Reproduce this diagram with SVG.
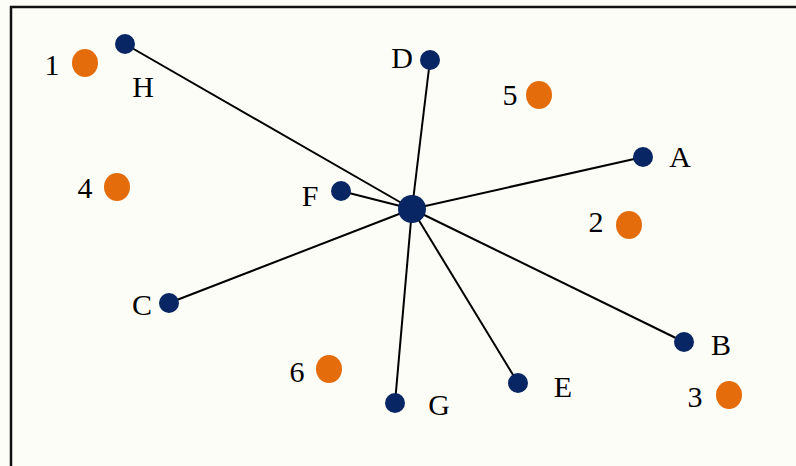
<svg xmlns="http://www.w3.org/2000/svg" width="796" height="466" viewBox="0 0 796 466">
  <style>
    .edge { stroke: #000; stroke-width: 2; fill: none; }
    .node { fill: #072663; }
    .hub { fill: #072663; }
    .spot { fill: #E46C0A; }
    .lbl { font-family: "Liberation Serif", "Times New Roman", serif; font-size: 30px; fill: #000; text-anchor: middle; }
    .frame { stroke: #111; stroke-width: 2.5; fill: none; }
  </style>
  <rect x="0" y="0" width="796" height="466" fill="#FDFDF8"/>
  <path class="frame" d="M11,466 V7 H796"/>

  <g id="connectors">
    <line class="edge" x1="412" y1="209" x2="125" y2="44"/>
    <line class="edge" x1="412" y1="209" x2="430" y2="60"/>
    <line class="edge" x1="412" y1="209" x2="643" y2="157"/>
    <line class="edge" x1="412" y1="209" x2="341" y2="191"/>
    <line class="edge" x1="412" y1="209" x2="169" y2="303"/>
    <line class="edge" x1="412" y1="209" x2="684" y2="342"/>
    <line class="edge" x1="412" y1="209" x2="518" y2="383"/>
    <line class="edge" x1="412" y1="209" x2="395" y2="403"/>
  </g>

  <g id="hub"><circle class="hub" cx="412" cy="209" r="14"/></g>
  <g id="node-H"><circle class="node" cx="125" cy="44" r="10"/><text class="lbl" x="143" y="97">H</text></g>
  <g id="node-D"><circle class="node" cx="430" cy="60" r="10"/><text class="lbl" x="402" y="68">D</text></g>
  <g id="node-A"><circle class="node" cx="643" cy="157" r="10"/><text class="lbl" x="680" y="167">A</text></g>
  <g id="node-F"><circle class="node" cx="341" cy="191" r="10"/><text class="lbl" x="310" y="206">F</text></g>
  <g id="node-C"><circle class="node" cx="169" cy="303" r="10"/><text class="lbl" x="142" y="315">C</text></g>
  <g id="node-B"><circle class="node" cx="684" cy="342" r="10"/><text class="lbl" x="721" y="355">B</text></g>
  <g id="node-E"><circle class="node" cx="518" cy="383" r="10"/><text class="lbl" x="563" y="397">E</text></g>
  <g id="node-G"><circle class="node" cx="395" cy="403" r="10"/><text class="lbl" x="439" y="415">G</text></g>

  <g id="spot-1"><ellipse class="spot" cx="85" cy="63" rx="13" ry="14"/><text class="lbl" x="52" y="75">1</text></g>
  <g id="spot-5"><ellipse class="spot" cx="539" cy="95" rx="13" ry="14"/><text class="lbl" x="510" y="105">5</text></g>
  <g id="spot-4"><ellipse class="spot" cx="117" cy="187" rx="13" ry="14"/><text class="lbl" x="85" y="198">4</text></g>
  <g id="spot-2"><ellipse class="spot" cx="629" cy="225" rx="13" ry="14"/><text class="lbl" x="596" y="232">2</text></g>
  <g id="spot-6"><ellipse class="spot" cx="329" cy="369" rx="13" ry="14"/><text class="lbl" x="297" y="382">6</text></g>
  <g id="spot-3"><ellipse class="spot" cx="729" cy="395" rx="13" ry="14"/><text class="lbl" x="695" y="407">3</text></g>
</svg>
